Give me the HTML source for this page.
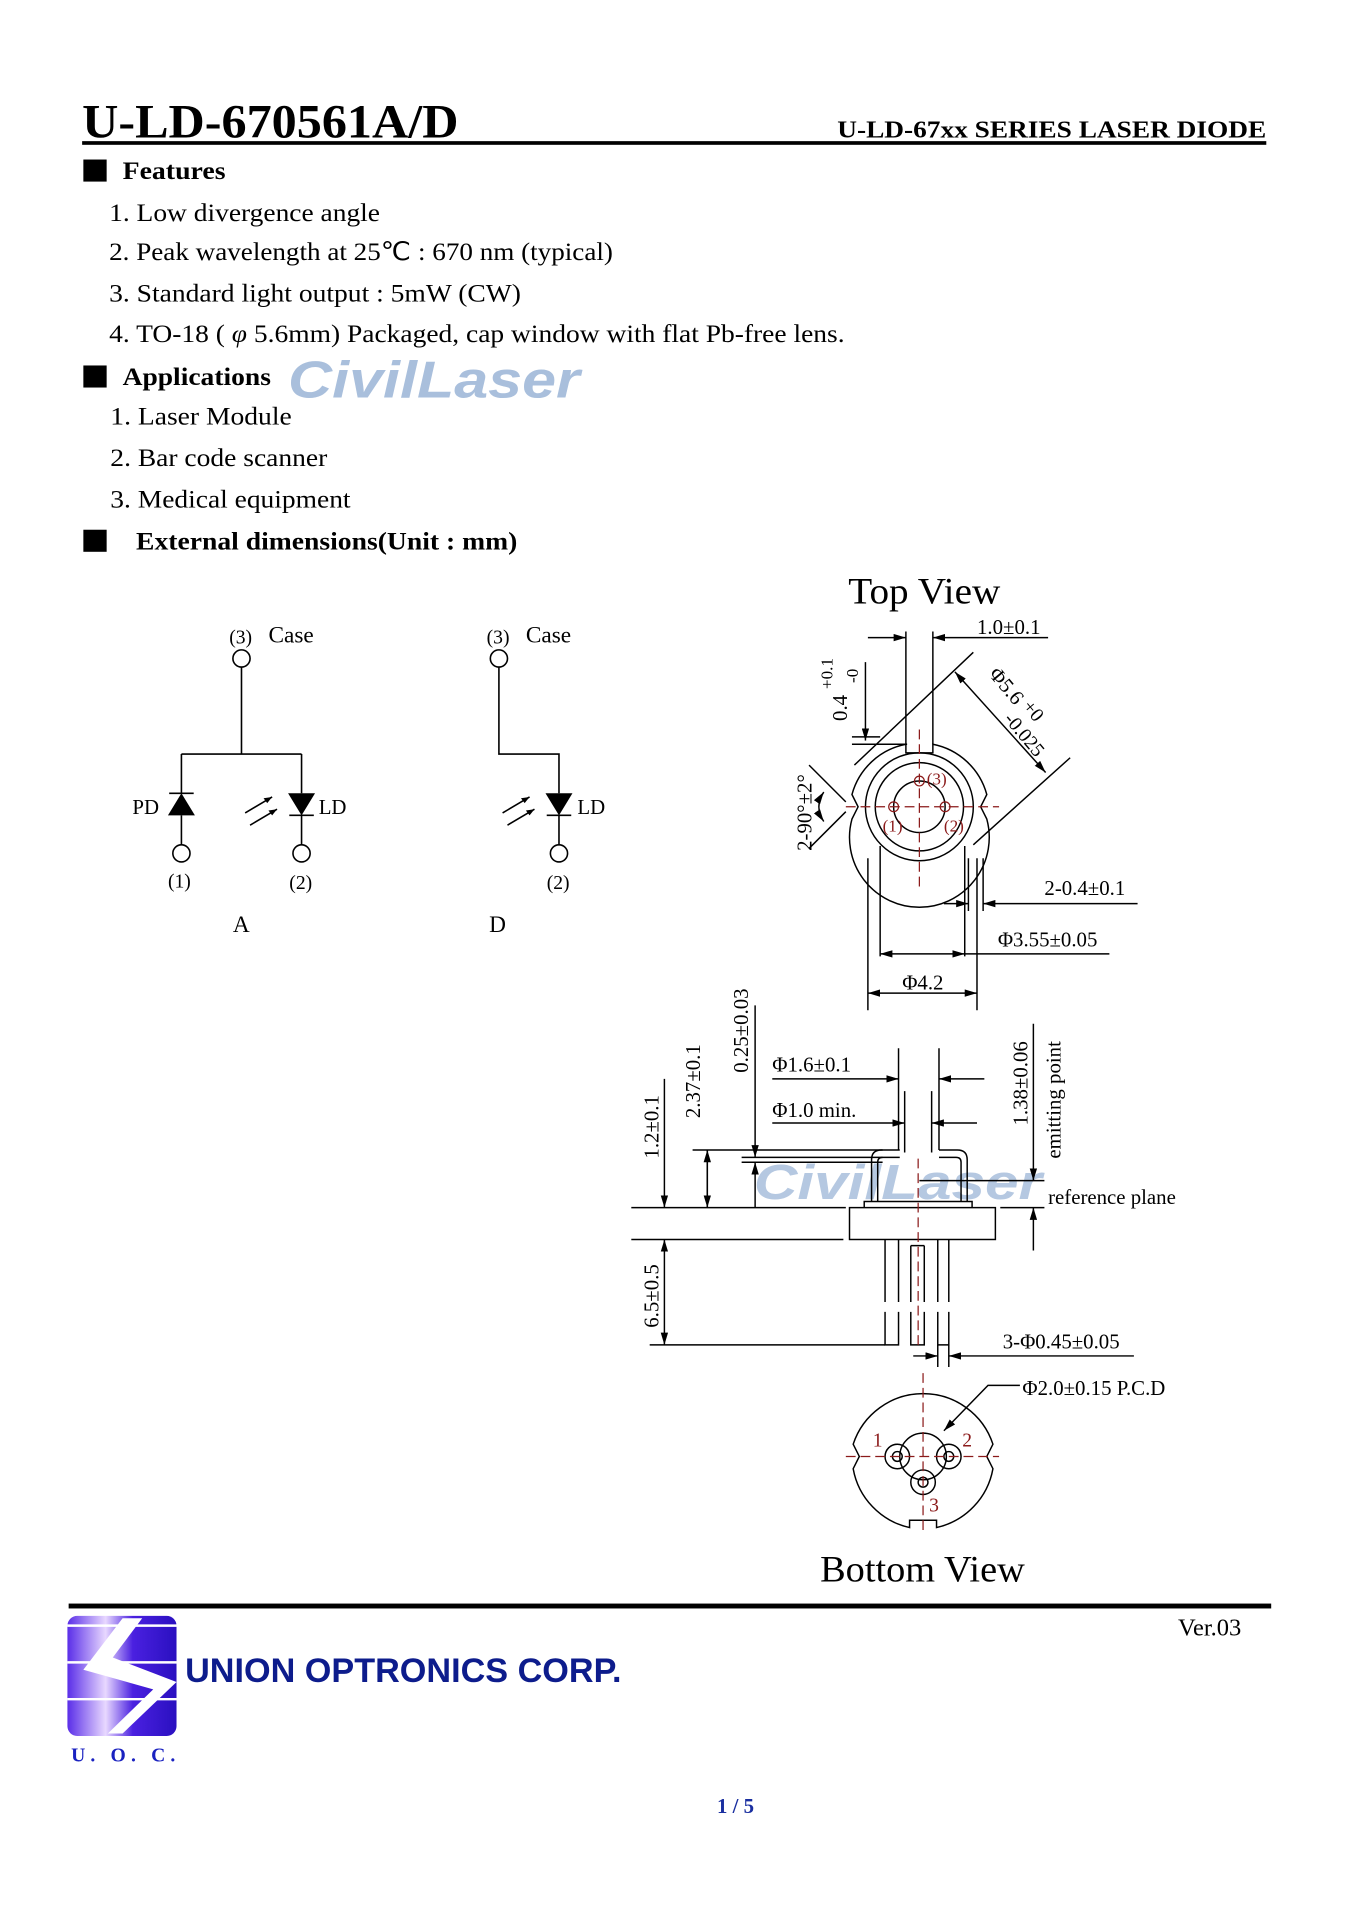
<!DOCTYPE html>
<html><head><meta charset="utf-8"><style>
html,body{margin:0;padding:0;background:#fff}
svg{display:block}
text{font-family:"Liberation Serif",serif;fill:#000}
.s{font-family:"Liberation Sans",sans-serif}
</style></head><body>
<svg width="1357" height="1920" viewBox="0 0 1107 1566" xmlns="http://www.w3.org/2000/svg">
<defs>
<marker id="a" viewBox="0 0 10 6" refX="10" refY="3" markerWidth="10" markerHeight="6" orient="auto-start-reverse" markerUnits="userSpaceOnUse"><path d="M0,0L10,3L0,6z" fill="#000"/></marker>
<linearGradient id="lg" x1="0" x2="1"><stop offset="0" stop-color="#5a2ee8"/><stop offset="0.35" stop-color="#e8d8ff"/><stop offset="0.6" stop-color="#4a20e0"/><stop offset="1" stop-color="#2a10c0"/></linearGradient>
</defs>
<rect width="1107" height="1566" fill="#fff"/>
<!-- header -->
<text x="67" y="112" font-size="39" font-weight="bold" textLength="307" lengthAdjust="spacingAndGlyphs">U-LD-670561A/D</text>
<text x="683" y="112" font-size="20" font-weight="bold" textLength="350" lengthAdjust="spacingAndGlyphs">U-LD-67xx SERIES LASER DIODE</text>
<rect x="67" y="115" width="966" height="3" fill="#000"/>
<rect x="68" y="130" width="19" height="18"/>
<text x="100" y="146" font-size="21" font-weight="bold" textLength="84" lengthAdjust="spacingAndGlyphs">Features</text>
<g font-size="21">
<text x="89" y="180" textLength="221" lengthAdjust="spacingAndGlyphs">1. Low divergence angle</text>
<text x="89" y="212" textLength="411" lengthAdjust="spacingAndGlyphs">2. Peak wavelength at 25℃ : 670 nm (typical)</text>
<text x="89" y="246" textLength="336" lengthAdjust="spacingAndGlyphs">3. Standard light output : 5mW (CW)</text>
<text x="89" y="279" textLength="600" lengthAdjust="spacingAndGlyphs">4. TO-18 ( <tspan font-style="italic">φ</tspan> 5.6mm) Packaged, cap window with flat Pb-free lens.</text>
</g>
<rect x="68" y="298" width="19" height="18"/>
<text x="100" y="314" font-size="21" font-weight="bold" textLength="121" lengthAdjust="spacingAndGlyphs">Applications</text>
<text x="235" y="324" class="s" font-size="42" font-weight="bold" font-style="italic" style="fill:#a9bfdc" textLength="238" lengthAdjust="spacingAndGlyphs">CivilLaser</text>
<g font-size="21">
<text x="90" y="346" textLength="148" lengthAdjust="spacingAndGlyphs">1. Laser Module</text>
<text x="90" y="380" textLength="177" lengthAdjust="spacingAndGlyphs">2. Bar code scanner</text>
<text x="90" y="414" textLength="196" lengthAdjust="spacingAndGlyphs">3. Medical equipment</text>
</g>
<rect x="68" y="432" width="19" height="18"/>
<text x="111" y="448" font-size="21" font-weight="bold" textLength="311" lengthAdjust="spacingAndGlyphs">External dimensions(Unit : mm)</text>

<!-- circuits -->
<g stroke="#000" stroke-width="1.3" fill="none">
<circle cx="197" cy="537" r="7"/><path d="M197 544V615M148 615H246M148 615V647M246 615V647M148 665V689M246 665V689"/>
<circle cx="148" cy="696" r="7"/><circle cx="246" cy="696" r="7"/>
<path d="M407 544V615H456V647M456 665V689"/><circle cx="407" cy="537" r="7"/><circle cx="456" cy="696" r="7"/>
<path d="M138 647H158M236 665H256M446 665H466"/>
<path d="M200 663L222 650M204 673L226 660M410 663L432 650M414 673L436 660"/>
</g>
<g fill="#000">
<path d="M148 647L137 665H159z"/><path d="M235 647H257L246 665z"/><path d="M445 647H467L456 665z"/>
<path d="M222 650l-7 1 3 4z"/><path d="M226 660l-7 1 3 4z"/><path d="M432 650l-7 1 3 4z"/><path d="M436 660l-7 1 3 4z"/>
</g>
<g font-size="19">
<text x="187" y="525" font-size="16">(3)</text><text x="219" y="524">Case</text>
<text x="397" y="525" font-size="16">(3)</text><text x="429" y="524">Case</text>
<text x="108" y="664" font-size="17">PD</text><text x="260" y="664" font-size="17">LD</text><text x="471" y="664" font-size="17">LD</text>
<text x="137" y="724" font-size="16">(1)</text><text x="236" y="725" font-size="16">(2)</text><text x="446" y="725" font-size="16">(2)</text>
<text x="190" y="760">A</text><text x="399" y="760">D</text>
</g>

<!-- top view -->
<text x="692" y="492" font-size="30" textLength="124" lengthAdjust="spacingAndGlyphs">Top View</text>
<g stroke="#000" stroke-width="1.2" fill="none">
<path d="M739 607 A57 57 0 0 0 695 648 L700 658 L695 668 A57 57 0 1 0 805 668 L800 658 L805 648 A57 57 0 0 0 761 607 L761 614 L739 614 Z"/>
<circle cx="750" cy="658" r="44"/><circle cx="750" cy="658" r="36"/><circle cx="750" cy="658" r="21"/>
<path d="M739 515V607M761 515V607"/>
<path d="M697 624L794 532M794 689L873 618"/>
<path d="M660 624L690 654M660 692L690 662"/>
<path d="M672 646Q664 658 672 670" marker-start="url(#a)" marker-end="url(#a)"/>
<path d="M708 520H739" marker-end="url(#a)"/><path d="M855 520H761" marker-end="url(#a)"/>
<path d="M706 540V604" marker-end="url(#a)"/><path d="M695 601H718M695 607H740"/>
<path d="M779 548L853 630" marker-start="url(#a)" marker-end="url(#a)"/>
<path d="M708 700V824M797 700V824M718 690V780M787 690V780M790 700V743M802 700V743"/>
<path d="M770 737H790" marker-end="url(#a)"/><path d="M928 737H802" marker-end="url(#a)"/>
<path d="M718 778H787" marker-start="url(#a)" marker-end="url(#a)"/><path d="M787 778H905"/>
<path d="M708 810H797" marker-start="url(#a)" marker-end="url(#a)"/>
</g>
<g stroke="#8b1a1a" stroke-width="1" fill="none" stroke-dasharray="8 4">
<path d="M690 658H815M750 595V725"/>
</g>
<g stroke="#8b1a1a" stroke-width="1" fill="none"><circle cx="729" cy="658" r="4"/><circle cx="771" cy="658" r="4"/><circle cx="750" cy="637" r="4"/></g>
<g font-size="14"><text x="756" y="640" style="fill:#8b1a1a">(3)</text><text x="720" y="678" style="fill:#8b1a1a">(1)</text><text x="770" y="678" style="fill:#8b1a1a">(2)</text></g>
<g font-size="17">
<text x="797" y="517">1.0±0.1</text>
<text x="852" y="730">2-0.4±0.1</text>
<text x="814" y="772">Φ3.55±0.05</text>
<text x="736" y="807">Φ4.2</text>
<text transform="translate(691,588) rotate(-90)">0.4</text>
<text transform="translate(679,562) rotate(-90)" font-size="14">+0.1</text>
<text transform="translate(700,557) rotate(-90)" font-size="14">-0</text>
<text transform="translate(662,694) rotate(-90)">2-90°±2°</text>
<g transform="translate(806,550) rotate(50)">
<text x="0" y="0">Φ5.6</text>
<text x="38" y="-4" font-size="16">+0</text>
<text x="36" y="14" font-size="16">-0.025</text>
</g>
</g>

<!-- side view -->
<text x="615" y="978" class="s" font-size="40" font-weight="bold" font-style="italic" style="fill:#a9bfdc;opacity:.85" textLength="235" lengthAdjust="spacingAndGlyphs">CivilLaser</text>
<g stroke="#000" stroke-width="1.2" fill="none">
<rect x="693" y="985" width="119" height="26"/>
<path d="M705 985V980H793V985"/>
<path d="M711 980V946Q711 938 719 938H734M766 938H781Q789 938 789 946V980"/>
<path d="M716 980V948Q716 944 720 944H734M766 944H780Q784 944 784 948V980"/>
<path d="M722 1011V1062M733 1011V1062M743 1016V1062M754 1016V1062M765 1011V1062M774 1011V1062"/>
<path d="M722 1070V1097H733V1070M743 1070V1097H754V1070M765 1070V1097H774V1070M743 1016H754"/>
<path d="M733 855V938M766 855V938M738 890V940M760 890V940"/>
<path d="M630 880H733" marker-end="url(#a)"/><path d="M803 880H766" marker-end="url(#a)"/>
<path d="M630 916H738" marker-end="url(#a)"/><path d="M797 916H760" marker-end="url(#a)"/>
<path d="M515 985H690M515 1011H688M530 1097H722M565 938H720M605 944H720M605 948H720"/>
<path d="M542 880V985" marker-end="url(#a)"/><path d="M542 1011V1097" marker-start="url(#a)" marker-end="url(#a)"/>
<path d="M577 985V938" marker-end="url(#a)"/><path d="M577 938V985" marker-end="url(#a)"/>
<path d="M616 820V944" marker-end="url(#a)"/><path d="M616 985V948" marker-end="url(#a)"/>
<path d="M750 963H852M816 985H852"/>
<path d="M843 835V963" marker-end="url(#a)"/><path d="M843 1020V985" marker-end="url(#a)"/>
<path d="M745 1106H765" marker-end="url(#a)"/><path d="M925 1106H774" marker-end="url(#a)"/>
<path d="M765 1097V1115M774 1097V1115"/>
</g>
<path d="M749 945V1100" stroke="#8b1a1a" stroke-width="1" stroke-dasharray="8 4"/>
<g font-size="17">
<text x="630" y="874">Φ1.6±0.1</text>
<text x="630" y="911">Φ1.0 min.</text>
<text transform="translate(537,945) rotate(-90)">1.2±0.1</text>
<text transform="translate(571,912) rotate(-90)">2.37±0.1</text>
<text transform="translate(610,875) rotate(-90)">0.25±0.03</text>
<text transform="translate(537,1083) rotate(-90)">6.5±0.5</text>
<text transform="translate(838,918) rotate(-90)">1.38±0.06</text>
<text transform="translate(865,945) rotate(-90)">emitting point</text>
<text x="855" y="982">reference plane</text>
<text x="818" y="1100">3-Φ0.45±0.05</text>
<text x="834" y="1138">Φ2.0±0.15 P.C.D</text>
</g>

<!-- bottom view -->
<g stroke="#000" stroke-width="1.2" fill="none">
<path d="M742 1246 A60 60 0 0 1 696 1198 L701 1188 L696 1178 A60 60 0 0 1 810 1178 L805 1188 L810 1198 A60 60 0 0 1 764 1246 L764 1240 L742 1240 Z"/>
<circle cx="753" cy="1188" r="19"/>
<circle cx="732" cy="1188" r="10"/><circle cx="774" cy="1188" r="10"/><circle cx="753" cy="1209" r="10"/>
<circle cx="732" cy="1188" r="4"/><circle cx="774" cy="1188" r="4"/><circle cx="753" cy="1209" r="4"/>
<path d="M832 1130H806L770 1167" marker-end="url(#a)"/>
</g>
<path d="M690 1188H815M753 1120V1252" stroke="#8b1a1a" stroke-width="1" stroke-dasharray="8 4"/>
<g font-size="16"><text x="712" y="1180" style="fill:#8b1a1a">1</text><text x="785" y="1180" style="fill:#8b1a1a">2</text><text x="758" y="1233" style="fill:#8b1a1a">3</text></g>
<text x="669" y="1290" font-size="30" textLength="167" lengthAdjust="spacingAndGlyphs">Bottom View</text>

<!-- footer -->
<rect x="56" y="1308" width="981" height="4"/>
<rect x="55" y="1318" width="89" height="98" rx="8" fill="url(#lg)"/>
<path d="M55 1326H144M55 1356H144M55 1386H144" stroke="#fff" stroke-width="2"/>
<path d="M100 1320L68 1362L125 1378L88 1414L100 1414L144 1372L92 1352L116 1320Z" fill="#fff"/>
<text x="58" y="1437" font-size="16" font-weight="bold" style="fill:#1a22c0" textLength="85" lengthAdjust="spacing">U. O. C.</text>
<text x="151" y="1372" class="s" font-size="28" font-weight="bold" style="fill:#0d1c8c" textLength="356" lengthAdjust="spacingAndGlyphs">UNION OPTRONICS CORP.</text>
<text x="961" y="1334" font-size="20">Ver.03</text>
<text x="600" y="1479" font-size="17" font-weight="bold" text-anchor="middle" style="fill:#1a2fa0">1 / 5</text>
</svg>
</body></html>
